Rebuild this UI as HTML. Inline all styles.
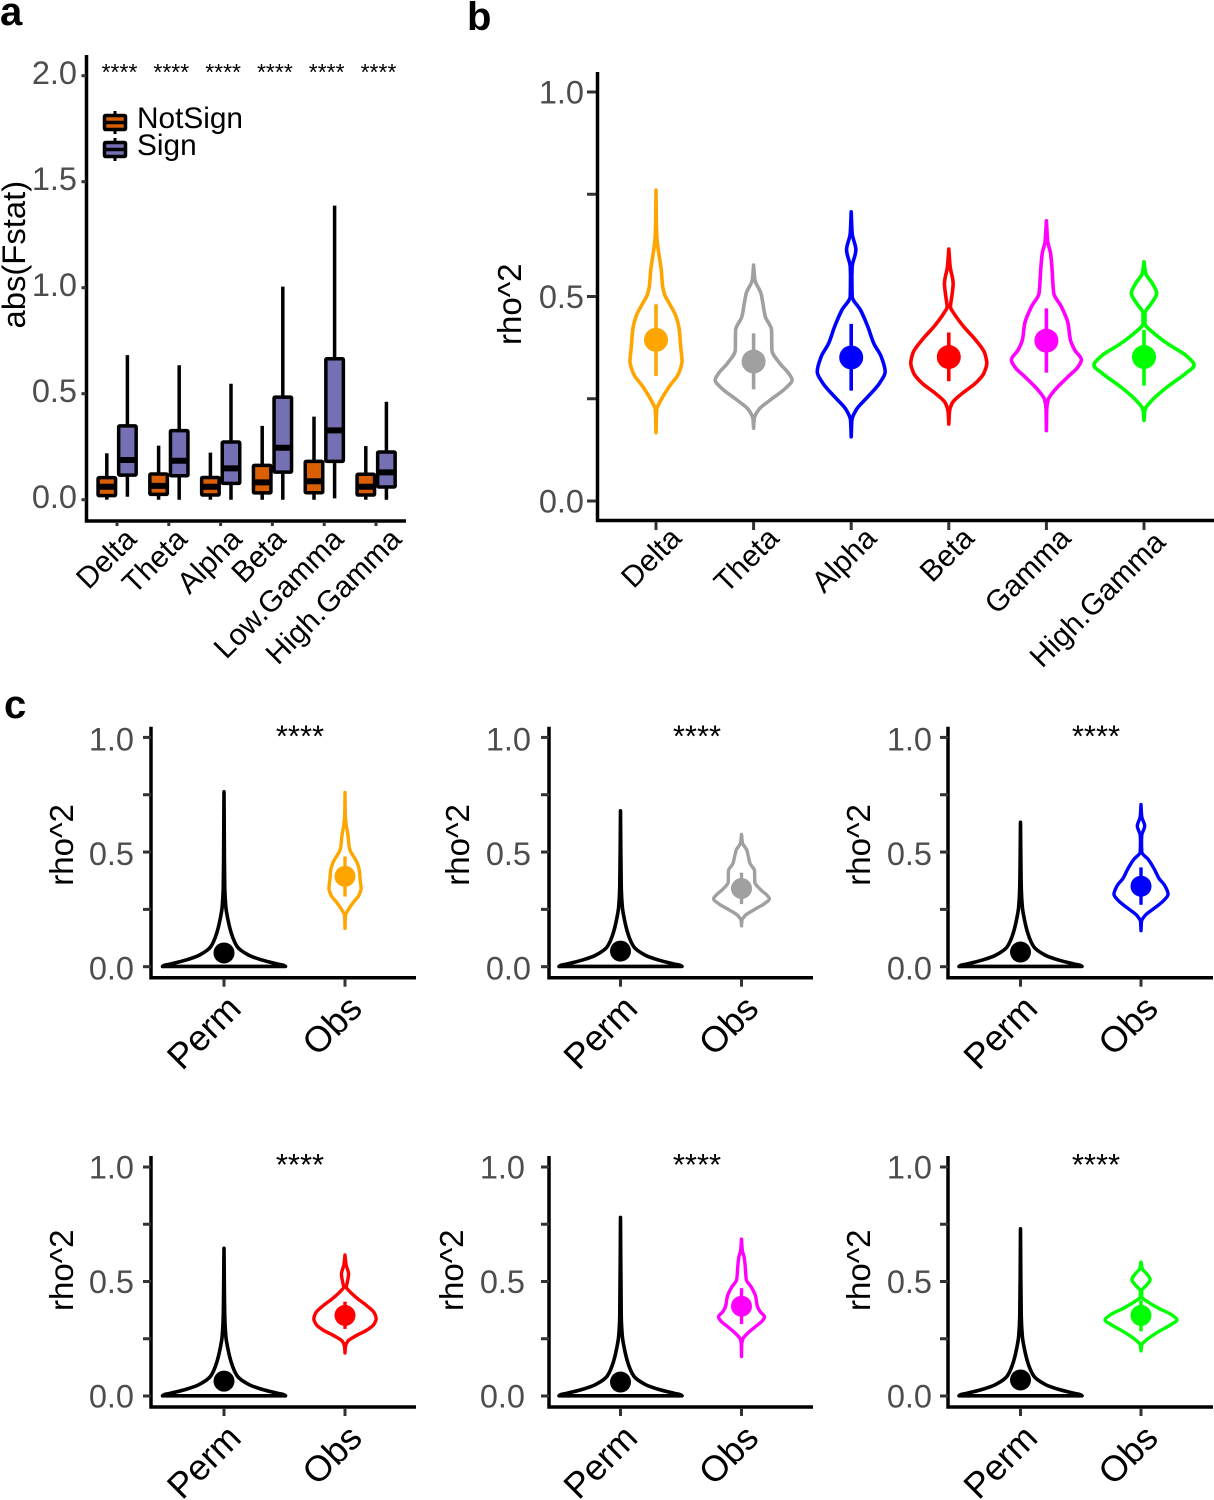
<!DOCTYPE html>
<html lang="en">
<head>
<meta charset="utf-8">
<title>Panels a, b, c</title>
<style>
  html,body{margin:0;padding:0;background:#fff;width:1214px;height:1500px;overflow:hidden}
  svg{display:block}
  text{font-family:"Liberation Sans",Arial,sans-serif}
</style>
</head>
<body>
<svg id="fig" xmlns="http://www.w3.org/2000/svg" width="1214" height="1500" viewBox="0 0 1214 1500">
  <text x="0" y="25" font-size="40" font-weight="700">a</text>
  <text x="467" y="30" font-size="40" font-weight="700">b</text>
  <text x="4" y="718" font-size="40" font-weight="700">c</text>
  <g id="panelA">
    <text transform="translate(25,328.5) rotate(-90)" font-size="32.8">abs(Fstat)</text>
    <g>
      <text x="137" y="128" font-size="29.8">NotSign</text>
      <text x="137" y="155" font-size="29.8">Sign</text>
    </g>
  </g>
  <g id="panelB">
    <text transform="translate(521,345) rotate(-90)" font-size="33">rho^2</text>
  </g>
  <g id="panelC"></g>
</svg>
<script>
// ---------- Panel a data ----------
const bandsA = ["Delta", "Theta", "Alpha", "Beta", "Low.Gamma", "High.Gamma"];
const ticksA = [0, 0.5, 1, 1.5, 2];
const notSignLow = [0, 0, 0, 0, 0, 0];
const notSignQ1 = [0.019, 0.025, 0.022, 0.032, 0.033, 0.022];
const notSignMed = [0.061, 0.065, 0.061, 0.082, 0.087, 0.061];
const notSignQ3 = [0.104, 0.121, 0.105, 0.162, 0.181, 0.12];
const notSignHigh = [0.219, 0.255, 0.222, 0.348, 0.392, 0.253];
const signLow = [0.014, 0, 0, 0, 0.006, 0];
const signQ1 = [0.116, 0.113, 0.077, 0.13, 0.181, 0.06];
const signMed = [0.187, 0.184, 0.148, 0.245, 0.327, 0.129];
const signQ3 = [0.348, 0.326, 0.272, 0.484, 0.665, 0.225];
const signHigh = [0.682, 0.634, 0.547, 1.005, 1.387, 0.462];

// ---------- Panel b / c data ----------
const bandsB = ["Delta", "Theta", "Alpha", "Beta", "Gamma", "High.Gamma"];
const ticksRho = [0, 0.25, 0.5, 0.75, 1];
const bandColors = ["#ffa500", "#a0a0a0", "#0000ff", "#ff0000", "#ff00ff", "#00ff00"];
const deltaRho = [0.76, 0.687, 0.646, 0.622, 0.565, 0.524, 0.504, 0.483, 0.451, 0.418, 0.377, 0.341, 0.312, 0.28, 0.247, 0.223, 0.167];
const deltaDens = [0, 0.04, 0.11, 0.24, 0.7, 0.89, 1.16, 1.78, 2.67, 3.11, 3.29, 3.47, 3.02, 1.78, 0.67, 0.09, 0];
const thetaRho = [0.577, 0.54, 0.508, 0.483, 0.451, 0.418, 0.369, 0.337, 0.312, 0.296, 0.275, 0.247, 0.223, 0.202, 0.178];
const thetaDens = [0, 0.18, 0.98, 1.24, 1.56, 2.4, 2.44, 3.47, 4.67, 5.13, 4.22, 2.22, 0.67, 0.09, 0];
const alphaRho = [0.707, 0.654, 0.614, 0.573, 0.549, 0.5, 0.467, 0.426, 0.385, 0.353, 0.316, 0.288, 0.255, 0.223, 0.198, 0.157];
const alphaDens = [0, 0.13, 0.62, 0.13, 0.09, 0.13, 1.24, 2.22, 3.02, 4, 4.53, 3.78, 2.22, 0.67, 0.09, 0];
const betaRho = [0.616, 0.573, 0.532, 0.5, 0.475, 0.459, 0.426, 0.394, 0.361, 0.337, 0.312, 0.288, 0.263, 0.239, 0.218, 0.188];
const betaDens = [0, 0.18, 0.58, 0.4, 0.22, 0.67, 2, 3.56, 4.8, 5.07, 4.67, 3.56, 1.78, 0.44, 0.09, 0];
const gammaRho = [0.685, 0.634, 0.606, 0.565, 0.508, 0.475, 0.434, 0.394, 0.369, 0.345, 0.328, 0.304, 0.271, 0.247, 0.223, 0.172];
const gammaDens = [0, 0.18, 0.55, 0.76, 0.98, 2, 2.89, 3.2, 3.78, 4.67, 4.22, 2.89, 1.11, 0.22, 0.04, 0];
const highGammaRho = [0.585, 0.557, 0.532, 0.508, 0.483, 0.459, 0.434, 0.41, 0.385, 0.353, 0.332, 0.312, 0.279, 0.247, 0.223, 0.197];
const highGammaDens = [0, 0.22, 1.11, 1.69, 0.98, 0.13, 0.13, 1.33, 3.11, 5.78, 6.67, 5.56, 3.11, 1.11, 0.13, 0];
const bandRho = [deltaRho, thetaRho, alphaRho, betaRho, gammaRho, highGammaRho];
const bandDens = [deltaDens, thetaDens, alphaDens, betaDens, gammaDens, highGammaDens];
const pointMean = [0.394, 0.341, 0.351, 0.352, 0.392, 0.352];
const pointLow = [0.306, 0.273, 0.27, 0.293, 0.314, 0.282];
const pointHigh = [0.481, 0.41, 0.433, 0.412, 0.471, 0.418];

// Null distribution, one outline per panel of c (tail top + peak density + mean)
const permRho = [0.349, 0.26, 0.203, 0.145, 0.087, 0.05, 0.029, 0.012, 0.006, 0.001];
const permRel = [0.012, 0.03, 0.066, 0.12, 0.216, 0.405, 0.62, 0.87, 0.97, 1];
const permTop = [0.763, 0.68, 0.63, 0.645, 0.78, 0.73];
const permPeak = [13.3, 11.3, 10.3, 10, 12.5, 11.4];
const permMean = [0.06, 0.068, 0.064, 0.065, 0.061, 0.07];
const xCategories = ["Perm", "Obs"];

// ---------- geometry ----------
const NS = "http://www.w3.org/2000/svg";
const yA = v => 499.7 - 212 * v;
const yB = v => 501 - 409 * v;
const xA = i => 117 + 51.8 * i;
const xB = i => 656 + 97.6 * i;

function el(parent, tag, attrs, text) {
  const e = document.createElementNS(NS, tag);
  for (const k in attrs) e.setAttribute(k, attrs[k]);
  if (text !== undefined) e.textContent = text;
  parent.appendChild(e);
  return e;
}
// Monotone cubic interpolation of x as a function of y, so the outline never overshoots
function smooth(pts) {
  const n = pts.length, h = [], s = [], m = [];
  for (let i = 0; i < n - 1; i++) {
    h.push(pts[i + 1][1] - pts[i][1]);
    s.push((pts[i + 1][0] - pts[i][0]) / h[i]);
  }
  m.push(s[0]);
  for (let i = 1; i < n - 1; i++) {
    if (s[i - 1] * s[i] <= 0) {
      m.push(0);
    } else {
      const w1 = 2 * h[i] + h[i - 1], w2 = h[i] + 2 * h[i - 1];
      m.push((w1 + w2) / (w1 / s[i - 1] + w2 / s[i]));
    }
  }
  m.push(s[n - 2]);
  let d = "";
  for (let i = 0; i < n - 1; i++) {
    const c1x = pts[i][0] + m[i] * h[i] / 3, c1y = pts[i][1] + h[i] / 3;
    const c2x = pts[i + 1][0] - m[i + 1] * h[i] / 3, c2y = pts[i + 1][1] - h[i] / 3;
    d += "C" + c1x.toFixed(2) + " " + c1y.toFixed(2) + " " + c2x.toFixed(2) + " " + c2y.toFixed(2) + " " + pts[i + 1][0].toFixed(2) + " " + pts[i + 1][1].toFixed(2);
  }
  return d;
}
function violinPath(rho, dens, cx, yFn, pxPerDens, closeFlat) {
  const right = rho.map((r, i) => [cx + dens[i] * pxPerDens, yFn(r)]);
  const left = rho.map((r, i) => [cx - dens[i] * pxPerDens, yFn(r)]).reverse();
  let d = "M" + right[0][0].toFixed(2) + " " + right[0][1].toFixed(2) + smooth(right);
  if (closeFlat) {
    d += "L" + left[0][0].toFixed(2) + " " + left[0][1].toFixed(2);
  }
  d += smooth(left) + "Z";
  return d;
}

// ---------- Panel a ----------
const pa = document.getElementById("panelA");
const starsA = el(pa, "g", {});


bandsA.forEach((b, i) => {
  const s = el(starsA, "text", {x: xA(i) + 2.5, y: 80, "font-size": 23, "text-anchor": "middle"}, "****");
  
  
});
const axA = el(pa, "path", {d: "M86.5 55V521H406", fill: "none", stroke: "#000", "stroke-width": 3.5});


ticksA.forEach(t => {
  const m = el(pa, "line", {x1: 81.5, x2: 86, y1: yA(t), y2: yA(t), stroke: "#333", "stroke-width": 3});
  
  
  const l = el(pa, "text", {x: 77, y: yA(t) + 8.5, "font-size": 32.5, "text-anchor": "end", fill: "#4d4d4d"}, t.toFixed(1));
  
  
});
const labelNudgeA = [21, 20, 23, 15, 21, 27];
bandsA.forEach((b, i) => {
  const m = el(pa, "line", {x1: xA(i), x2: xA(i), y1: 522, y2: 526, stroke: "#333", "stroke-width": 3});
  
  
  const ex = xA(i) + labelNudgeA[i], ey = 541;
  const l = el(pa, "text", {transform: "translate(" + ex + "," + ey + ") rotate(-45)", "font-size": 30, "text-anchor": "end"}, b);
  
  
});
function box(parent, x, lo, q1, med, q3, hi, fill) {
  const w = 17.5;
  el(parent, "line", {x1: x, x2: x, y1: yA(hi), y2: yA(lo), stroke: "#000", "stroke-width": 3.5});
  el(parent, "rect", {x: x - w / 2, y: yA(q3), width: w, height: yA(q1) - yA(q3), fill: fill, stroke: "#000", "stroke-width": 3.5, rx: 1});
  el(parent, "line", {x1: x - w / 2, x2: x + w / 2, y1: yA(med), y2: yA(med), stroke: "#000", "stroke-width": 6});
}
bandsA.forEach((b, i) => {
  const g1 = el(pa, "g", {});
  
  
  box(g1, xA(i) - 10.2, notSignLow[i], notSignQ1[i], notSignMed[i], notSignQ3[i], notSignHigh[i], "#d95f02");
  const g2 = el(pa, "g", {});
  
  
  box(g2, xA(i) + 10.4, signLow[i], signQ1[i], signMed[i], signQ3[i], signHigh[i], "#7570b3");
});
const legendKeys = [{y: 122.5, fill: "#d95f02"}, {y: 149.5, fill: "#7570b3"}];
legendKeys.forEach(k => {
  const g = el(pa, "g", {});
  
  
  el(g, "line", {x1: 115, x2: 115, y1: k.y - 11.5, y2: k.y + 11.5, stroke: "#000", "stroke-width": 3});
  el(g, "rect", {x: 104.5, y: k.y - 7, width: 21, height: 14, fill: k.fill, stroke: "#000", "stroke-width": 3.5, rx: 1});
  el(g, "line", {x1: 104.5, x2: 125.5, y1: k.y, y2: k.y, stroke: "#000", "stroke-width": 3.5});
});

// ---------- Panel b ----------
const pb = document.getElementById("panelB");
const axB = el(pb, "path", {d: "M597.5 72V520.5H1214", fill: "none", stroke: "#000", "stroke-width": 3.5});


ticksRho.forEach(t => {
  const m = el(pb, "line", {x1: 587, x2: 596, y1: yB(t), y2: yB(t), stroke: "#333", "stroke-width": 3});
  
  
  if (t === 0 || t === 0.5 || t === 1) {
    const l = el(pb, "text", {x: 584, y: yB(t) + 11.5, "font-size": 32.5, "text-anchor": "end", fill: "#4d4d4d"}, t.toFixed(1));
    
    
  }
});
const labelNudgeBx = [27, 27, 27, 27, 26, 23];
const labelNudgeBy = [540, 540, 540, 540, 540, 544];
bandsB.forEach((b, i) => {
  const x = xB(i);
  const m = el(pb, "line", {x1: x, x2: x, y1: 522, y2: 530, stroke: "#333", "stroke-width": 3});
  
  
  const l = el(pb, "text", {transform: "translate(" + (x + labelNudgeBx[i]) + "," + labelNudgeBy[i] + ") rotate(-45)", "font-size": 30, "text-anchor": "end"}, b);
  
  
  const v = el(pb, "path", {d: violinPath(bandRho[i], bandDens[i], x, yB, 7.5, false), fill: "none", stroke: bandColors[i], "stroke-width": 3.6, "stroke-linejoin": "round"});
  
  
  const r = el(pb, "line", {x1: x, x2: x, y1: yB(pointHigh[i]), y2: yB(pointLow[i]), stroke: bandColors[i], "stroke-width": 3.6});
  
  
  const p = el(pb, "circle", {cx: x, cy: yB(pointMean[i]), r: 12, fill: bandColors[i]});
  
  
});

// ---------- Panel c ----------
const pc = document.getElementById("panelC");
const rowBase = [966.7, 1396];
const rowScale = [229.3, 229];
const rowLabelDy = [13, 11.5];
const rowTitleDy = [81, 85];
const colAxis = [151, 549, 948];
const colPerm = [224, 620.5, 1020.5];
const colObs = [345, 741.5, 1141];
const colEnd = [416, 813, 1213];
const labelRight = [[134, 531, 932], [134, 525, 932]];
const titleX = [[73, 469, 870], [73, 463, 870]];
const starX = [300, 697, 1096];
for (let k = 0; k < 6; k++) {
  const row = Math.floor(k / 3), col = k % 3;
  const base = rowBase[row];
  const scale = rowScale[row];
  const yC = v => base - scale * v;
  const g = el(pc, "g", {});
  
  
  const ax = el(g, "path", {d: "M" + colAxis[col] + " " + (base - 240) + "V" + (base + 11) + "H" + colEnd[col], fill: "none", stroke: "#000", "stroke-width": 3.5});
  
  
  ticksRho.forEach(t => {
    const m = el(g, "line", {x1: colAxis[col] - 8, x2: colAxis[col], y1: yC(t), y2: yC(t), stroke: "#333", "stroke-width": 3});
    
    
    if (t === 0 || t === 0.5 || t === 1) {
      const l = el(g, "text", {x: labelRight[row][col], y: yC(t) + rowLabelDy[row], "font-size": 32.5, "text-anchor": "end", fill: "#4d4d4d"}, t.toFixed(1));
      
      
    }
  });
  const title = el(g, "text", {transform: "translate(" + titleX[row][col] + "," + (base - rowTitleDy[row]) + ") rotate(-90)", "font-size": 33}, "rho^2");
  
  
  const st = el(g, "text", {x: starX[col], y: base - 220 - row, "font-size": 31, "text-anchor": "middle"}, "****");
  
  
  [colPerm[col], colObs[col]].forEach((x, j) => {
    const m = el(g, "line", {x1: x, x2: x, y1: base + 12, y2: base + 20, stroke: "#333", "stroke-width": 3});
    
    
    const l = el(g, "text", {transform: "translate(" + (x + 19) + "," + (base + 44) + ") rotate(-45)", "font-size": 36, "text-anchor": "end"}, xCategories[j]);
    
    
  });
  const rhoP = [permTop[k]].concat(permRho);
  const relP = [0].concat(permRel);
  const vp = el(g, "path", {d: violinPath(rhoP, relP, colPerm[col], yC, 61.5, true), fill: "none", stroke: "#000", "stroke-width": 3.6, "stroke-linejoin": "round"});
  
  
  const pp = el(g, "circle", {cx: colPerm[col], cy: yC(permMean[k]), r: 10.5, fill: "#000"});
  
  
  const vo = el(g, "path", {d: violinPath(bandRho[k], bandDens[k], colObs[col], yC, 61.5 / permPeak[k], false), fill: "none", stroke: bandColors[k], "stroke-width": 3.4, "stroke-linejoin": "round"});
  
  
  const ro = el(g, "line", {x1: colObs[col], x2: colObs[col], y1: yC(pointHigh[k]), y2: yC(pointLow[k]), stroke: bandColors[k], "stroke-width": 3.4});
  
  
  const po = el(g, "circle", {cx: colObs[col], cy: yC(pointMean[k]), r: 10.5, fill: bandColors[k]});
  
  
}
</script>
</body>
</html>
